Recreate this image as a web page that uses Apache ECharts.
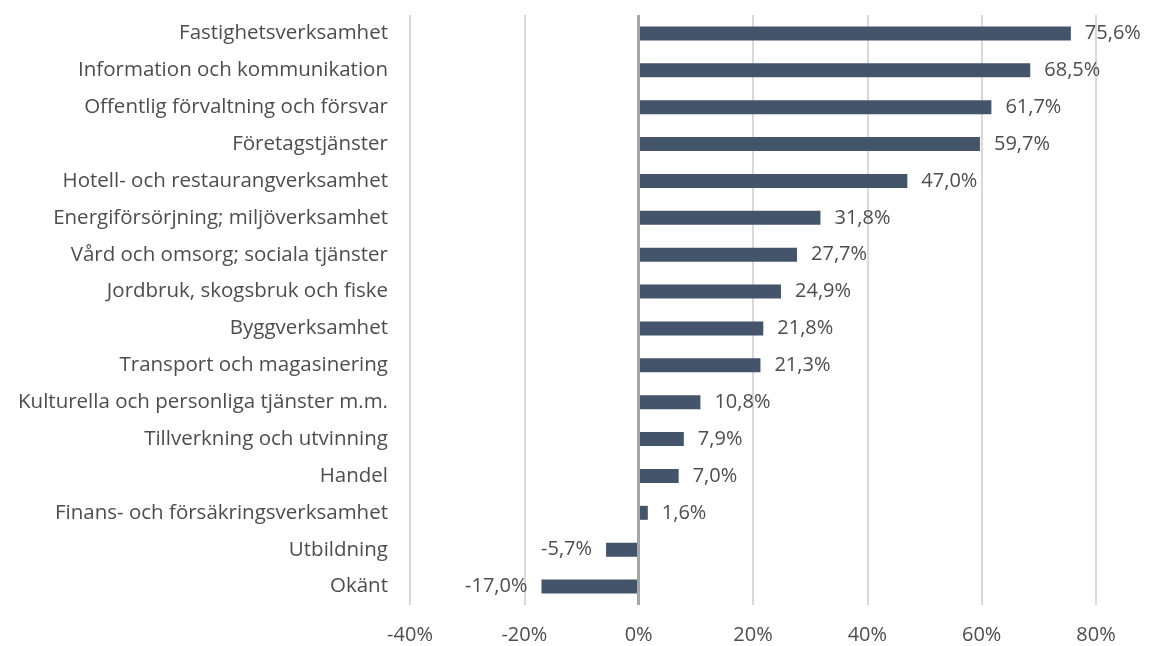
<!DOCTYPE html>
<html>
<head>
<meta charset="utf-8">
<script src="https://cdn.jsdelivr.net/npm/echarts@6/dist/echarts.min.js"></script>
<style>
  html, body { margin: 0; padding: 0; background: #fff; }
  #chart { width: 1149px; height: 646px; }
</style>
</head>
<body>
<div id="chart"></div>
<script>
// kategorier, uppifrån och ned
var categories = [
    'Fastighetsverksamhet',
    'Information och kommunikation',
    'Offentlig förvaltning och försvar',
    'Företagstjänster',
    'Hotell- och restaurangverksamhet',
    'Energiförsörjning; miljöverksamhet',
    'Vård och omsorg; sociala tjänster',
    'Jordbruk, skogsbruk och fiske',
    'Byggverksamhet',
    'Transport och magasinering',
    'Kulturella och personliga tjänster m.m.',
    'Tillverkning och utvinning',
    'Handel',
    'Finans- och försäkringsverksamhet',
    'Utbildning',
    'Okänt'
];
var values = [75.6, 68.5, 61.7, 59.7, 47.0, 31.8, 27.7, 24.9, 21.8, 21.3, 10.8, 7.9, 7.0, 1.6, -5.7, -17.0];
var xTicks = [-40, -20, 0, 20, 40, 60, 80];

var fontFam = '"Open Sans", "Noto Sans", sans-serif';
var textColor = '#4d4d4d';

var myChart = echarts.init(document.getElementById('chart'));

var option = {
    animation: false,
    grid: { left: 410, right: 53, top: 15, bottom: 41, containLabel: false },
    xAxis: {
        type: 'value',
        min: xTicks[0],
        max: xTicks[xTicks.length - 1],
        interval: 20,
        axisLine: { show: false },
        axisTick: { show: false },
        splitLine: { lineStyle: { color: '#d9d9d9', width: 2 } },
        axisLabel: {
            margin: 20,
            color: textColor,
            fontSize: 20,
            fontFamily: fontFam,
            formatter: function (v) { return v + '%'; }
        }
    },
    yAxis: {
        type: 'category',
        data: categories,
        inverse: true,
        axisLine: { show: false, onZero: false },
        axisTick: { show: false },
        axisLabel: {
            margin: 22,
            color: textColor,
            fontSize: 20.5,
            fontFamily: fontFam
        }
    },
    series: [{
        type: 'bar',
        barWidth: 14,
        data: values.map(function (v) {
            return {
                value: v,
                label: { position: v < 0 ? 'left' : 'right' }
            };
        }),
        itemStyle: { color: '#44546a' },
        label: {
            show: true,
            distance: 14,
            color: textColor,
            fontSize: 20,
            fontFamily: fontFam,
            formatter: function (p) { return p.value.toFixed(1).replace('.', ',') + '%'; }
        },
        markLine: {
            silent: true,
            symbol: 'none',
            label: { show: false },
            lineStyle: { color: '#a6a6a6', width: 3, type: 'solid' },
            data: [{ xAxis: 0 }]
        }
    }]
};

myChart.setOption(option);
</script>
</body>
</html>
